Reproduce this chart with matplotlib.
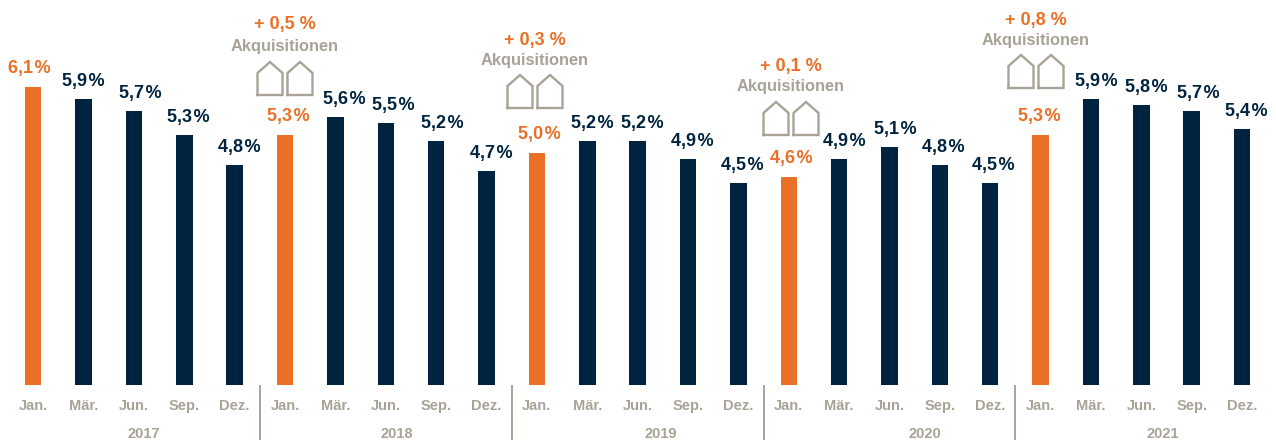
import matplotlib
matplotlib.use("Agg")
import matplotlib.pyplot as plt

NAVY = "#00243F"
ORANGE = "#E97026"
GREY = "#A8A396"

plt.rcParams["font.family"] = ["Liberation Sans", "DejaVu Sans"]

years = ["2017", "2018", "2019", "2020", "2021"]
months = ["Jan.", "Mär.", "Jun.", "Sep.", "Dez."]
values = [6.1, 5.9, 5.7, 5.3, 4.8,
          5.3, 5.6, 5.5, 5.2, 4.7,
          5.0, 5.2, 5.2, 4.9, 4.5,
          4.6, 4.9, 5.1, 4.8, 4.5,
          5.3, 5.9, 5.8, 5.7, 5.4]
acquisitions = ["+ 0,5 %", "+ 0,3 %", "+ 0,1 %", "+ 0,8 %"]

# layout (pixels)
W, H = 1276, 440
X0, DX = 33.2, 50.37
Y0, SCALE, BASE = 385.0, 59.5, 1.1
label_dx = [-4, 0, 6, 4, 5, 3, 9, 8, 6, 5, 2, 5, 5, 4, 4, 3, 5, 6, 3, 3, -1, 5, 5, 7, 4]
year_x = [144, 397, 661, 925, 1163]
anchors = [(285, 25, 46, 62), (535, 40, 61, 75), (791, 66, 87, 102), (1036, 20, 41, 55)]

fig = plt.figure(figsize=(W / 100, H / 100), dpi=100)
ax = fig.add_axes([0, 0, 1, 1])
ax.set_xlim(-X0 / DX, (W - X0) / DX)
ax.set_ylim(BASE - (H - Y0) / SCALE, BASE + Y0 / SCALE)
ax.axis("off")

positions = list(range(len(values)))
colors = [ORANGE if i % 5 == 0 else NAVY for i in positions]
ax.bar(positions, [v - BASE for v in values], bottom=BASE, width=16.5 / DX, color=colors)

px = 72 / 100
for i, v in zip(positions, values):
    gap = 14 if i % 5 == 0 else 13
    ax.annotate(f"{v:.1f}".replace(".", ",") + "\u200a%", (i, v),
                xytext=(label_dx[i] * px, gap * px),
                textcoords="offset points", ha="center", va="baseline",
                color=colors[i], fontsize=13, fontweight="bold")

ov = fig.add_axes([0, 0, 1, 1], facecolor="none")
ov.set_xlim(0, W)
ov.set_ylim(H, 0)
ov.axis("off")

for i in positions:
    ov.text(X0 + DX * i, 410, months[i % 5], ha="center", va="baseline",
            color=GREY, fontsize=10.5, fontweight="bold")

for x, y in zip(year_x, years):
    ov.text(x, 438, y, ha="center", va="baseline", color=GREY, fontsize=10.5, fontweight="bold")

for k in range(1, 5):
    x = X0 + DX * (5 * k - 0.5)
    ov.plot([x, x], [385, 440], color=GREY, lw=1.4, solid_capstyle="butt")

for label, (cx, y1, y2, yh) in zip(acquisitions, anchors):
    ov.text(cx, y1, label, ha="center", va="center", color=ORANGE, fontsize=13, fontweight="bold")
    ov.text(cx, y2, "Akquisitionen", ha="center", va="center", color=GREY, fontsize=11.8, fontweight="bold")
    for c in (cx - 15, cx + 15):
        hx = [c - 12.5, c - 12.5, c, c + 12.5, c + 12.5, c - 12.5]
        hy = [yh + 33, yh + 11, yh, yh + 11, yh + 33, yh + 33]
        ov.plot(hx, hy, color=GREY, lw=1.7, solid_joinstyle="miter")

fig.savefig("out.png", dpi=100)
